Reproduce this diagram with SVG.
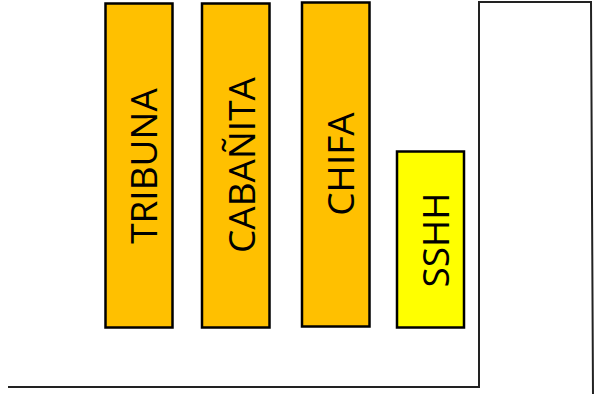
<svg xmlns="http://www.w3.org/2000/svg" width="595" height="394" viewBox="0 0 595 394">
<style>
.box{stroke:#000;stroke-width:2.5}
.orange{fill:#FFC000}
.yellow{fill:#FFFF00}
.lbl{font-family:"Open Sans","Liberation Sans",sans-serif;font-size:37px;fill:#000;text-anchor:middle}
.wall{fill:none;stroke:#222;stroke-width:2}
</style>
<rect width="595" height="394" fill="#fff"/>
<g id="walls">
<polyline class="wall" points="8,387 479,387 479,2 591,2 593,394"/>
</g>
<g id="tribuna">
<rect class="box orange" x="105.5" y="3.5" width="67" height="324"/>
<text class="lbl" transform="translate(157,166) rotate(-90)">TRIBUNA</text>
</g>
<g id="cabanita">
<rect class="box orange" x="202" y="3.5" width="67.5" height="324"/>
<text class="lbl" transform="translate(254.5,165) rotate(-90)">CABAÑITA</text>
</g>
<g id="chifa">
<rect class="box orange" x="302" y="2.5" width="67.5" height="324"/>
<text class="lbl" transform="translate(354,164) rotate(-90)">CHIFA</text>
</g>
<g id="sshh">
<rect class="box yellow" x="397" y="151.5" width="67" height="176"/>
<text class="lbl" transform="translate(449,240) rotate(-90)">SSHH</text>
</g>
</svg>
